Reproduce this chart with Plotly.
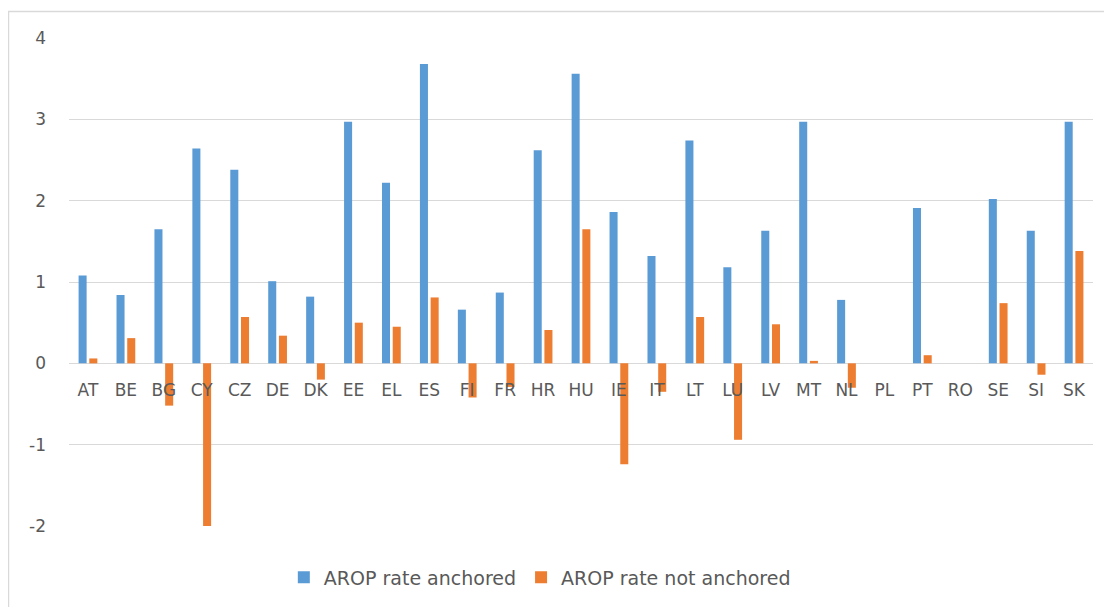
import plotly.graph_objects as go

countries = ["AT", "BE", "BG", "CY", "CZ", "DE", "DK", "EE", "EL", "ES", "FI", "FR", "HR", "HU",
             "IE", "IT", "LT", "LU", "LV", "MT", "NL", "PL", "PT", "RO", "SE", "SI", "SK"]
anchored = [1.08, 0.84, 1.65, 2.64, 2.38, 1.01, 0.82, 2.97, 2.22, 3.68, 0.66, 0.87, 2.62, 3.56,
            1.86, 1.32, 2.74, 1.18, 1.63, 2.97, 0.78, None, 1.91, None, 2.02, 1.63, 2.97]
not_anchored = [0.06, 0.31, -0.52, -2.0, 0.57, 0.34, -0.20, 0.50, 0.45, 0.81, -0.42, -0.29, 0.41, 1.65,
                -1.24, -0.35, 0.57, -0.94, 0.48, 0.03, -0.30, None, 0.10, None, 0.74, -0.14, 1.38]
y_ticks = [-2, -1, 0, 1, 2, 3, 4]
y_tick_text = ["-2", "-1", "0", "1", "2", "3", "4"]

FONT = "DejaVu Sans, sans-serif"
GRID = "#d9d9d9"
TXT = "#595959"

fig = go.Figure()
fig.add_trace(go.Bar(x=countries, y=anchored, name="AROP rate anchored",
                     marker=dict(color="#5B9BD5", line=dict(width=0))))
fig.add_trace(go.Bar(x=countries, y=not_anchored, name="AROP rate not anchored",
                     marker=dict(color="#ED7D31", line=dict(width=0))))

# page body has an 8px margin, so the figure is drawn 8px smaller and shifted
OFF = 8
W, H = 1112 - OFF, 607 - OFF
L, R, T, B = 69.3 - OFF, 19.3, 38.3 - OFF, 80.3
pw = W - L - R
ph = H - T - B

fig.update_layout(
    width=W, height=H,
    margin=dict(l=L, r=R, t=T, b=B, pad=0),
    paper_bgcolor="white", plot_bgcolor="white",
    barmode="group", bargap=0.435, bargroupgap=0.25,
    font=dict(family=FONT, size=17, color=TXT),
    showlegend=True,
    legend=dict(orientation="h", x=(284 - OFF - L) / pw, xanchor="left",
                y=(H - B - (577 - OFF)) / ph, yanchor="middle",
                font=dict(size=19, color=TXT), itemwidth=30, traceorder="normal"),
    xaxis=dict(anchor="free", position=2 / 6, showgrid=False, showline=False, ticks="",
               ticklabelstandoff=15, tickfont=dict(size=17, color=TXT), fixedrange=True),
    yaxis=dict(range=[-2, 4], tickvals=y_ticks, ticktext=y_tick_text, showgrid=True,
               gridcolor=GRID, gridwidth=1,
               zeroline=True, zerolinecolor=GRID, zerolinewidth=1, showline=False, ticks="",
               ticklabelstandoff=22, tickfont=dict(size=17, color=TXT)),
)

# outer chart frame
fig.add_shape(type="rect", xref="paper", yref="paper",
              x0=(0.8 - L) / pw, x1=(W + 5 - L) / pw,
              y0=(H - B - (H + 5)) / ph, y1=(H - B - (11.7 - OFF)) / ph,
              line=dict(color=GRID, width=1.5), fillcolor="rgba(0,0,0,0)", layer="below")

fig.write_html("out.html")
